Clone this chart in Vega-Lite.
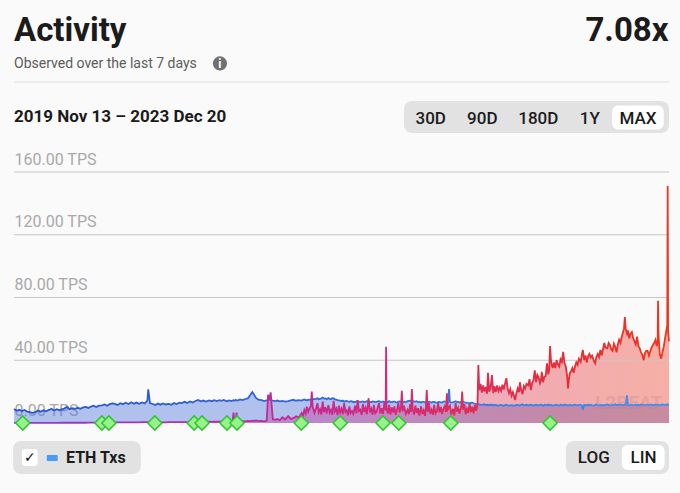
{
  "$schema": "https://vega.github.io/schema/vega-lite/v6.json",
  "width": 655,
  "height": 251,
  "autosize": {"type": "none"},
  "padding": {"left": 14, "top": 172, "right": 11, "bottom": 70},
  "background": "#fafafa",
  "config": {"view": {"stroke": null}, "font": "Roboto"},
  "datasets": {
    "series": [
      {"d":"2019-11-13","eth":8.9,"l2":0.1},{"d":"2019-11-19","eth":7.8,"l2":0.1},{"d":"2019-11-25","eth":8.4,"l2":0.1},
      {"d":"2019-12-01","eth":7.6,"l2":0.1},{"d":"2019-12-07","eth":8.3,"l2":0.1},{"d":"2019-12-13","eth":7.3,"l2":0.1},{"d":"2019-12-19","eth":7.0,"l2":0.1},{"d":"2019-12-25","eth":6.5,"l2":0.1},
      {"d":"2020-01-01","eth":6.9,"l2":0.1},{"d":"2020-01-07","eth":7.9,"l2":0.1},{"d":"2020-01-13","eth":7.2,"l2":0.1},{"d":"2020-01-19","eth":8.1,"l2":0.1},{"d":"2020-01-25","eth":7.5,"l2":0.1},
      {"d":"2020-02-01","eth":8.4,"l2":0.1},{"d":"2020-02-07","eth":9.0,"l2":0.1},{"d":"2020-02-13","eth":8.0,"l2":0.1},{"d":"2020-02-19","eth":8.8,"l2":0.1},{"d":"2020-02-25","eth":8.1,"l2":0.1},
      {"d":"2020-03-01","eth":8.7,"l2":0.15},{"d":"2020-03-07","eth":9.2,"l2":0.15},{"d":"2020-03-13","eth":10.3,"l2":0.15},{"d":"2020-03-19","eth":8.8,"l2":0.15},{"d":"2020-03-25","eth":9.4,"l2":0.15},
      {"d":"2020-04-01","eth":9.0,"l2":0.15},{"d":"2020-04-07","eth":9.7,"l2":0.15},{"d":"2020-04-13","eth":9.1,"l2":0.15},{"d":"2020-04-19","eth":9.9,"l2":0.15},{"d":"2020-04-25","eth":10.2,"l2":0.15},
      {"d":"2020-05-01","eth":9.6,"l2":0.2},{"d":"2020-05-07","eth":10.5,"l2":0.2},{"d":"2020-05-13","eth":11.0,"l2":0.2},{"d":"2020-05-19","eth":10.2,"l2":0.2},{"d":"2020-05-25","eth":11.1,"l2":0.2},
      {"d":"2020-06-01","eth":11.3,"l2":0.3},{"d":"2020-06-07","eth":11.8,"l2":0.3},{"d":"2020-06-13","eth":11.0,"l2":0.3},{"d":"2020-06-19","eth":12.1,"l2":0.3},{"d":"2020-06-25","eth":12.5,"l2":0.3},
      {"d":"2020-07-01","eth":12.2,"l2":0.4},{"d":"2020-07-07","eth":11.5,"l2":0.4},{"d":"2020-07-13","eth":12.6,"l2":0.4},{"d":"2020-07-19","eth":12.0,"l2":0.4},{"d":"2020-07-25","eth":12.9,"l2":0.4},
      {"d":"2020-08-01","eth":12.1,"l2":0.35},{"d":"2020-08-07","eth":13.2,"l2":0.35},{"d":"2020-08-13","eth":12.3,"l2":0.35},{"d":"2020-08-19","eth":13.0,"l2":0.35},{"d":"2020-08-25","eth":12.2,"l2":0.35},
      {"d":"2020-09-01","eth":13.1,"l2":0.5},{"d":"2020-09-07","eth":12.4,"l2":0.5},{"d":"2020-09-13","eth":14.2,"l2":0.5},{"d":"2020-09-15","eth":21.5,"l2":0.5},{"d":"2020-09-19","eth":12.7,"l2":0.5},{"d":"2020-09-25","eth":12.1,"l2":0.5},
      {"d":"2020-10-01","eth":11.5,"l2":0.45},{"d":"2020-10-07","eth":12.4,"l2":0.45},{"d":"2020-10-13","eth":11.7,"l2":0.45},{"d":"2020-10-19","eth":12.5,"l2":0.45},{"d":"2020-10-25","eth":11.8,"l2":0.45},
      {"d":"2020-11-01","eth":12.2,"l2":0.5},{"d":"2020-11-07","eth":11.6,"l2":0.5},{"d":"2020-11-13","eth":12.7,"l2":0.5},{"d":"2020-11-19","eth":12.1,"l2":0.5},{"d":"2020-11-25","eth":13.0,"l2":0.5},
      {"d":"2020-12-01","eth":12.7,"l2":0.6},{"d":"2020-12-07","eth":13.5,"l2":0.6},{"d":"2020-12-13","eth":12.8,"l2":0.6},{"d":"2020-12-19","eth":13.7,"l2":0.6},{"d":"2020-12-25","eth":13.1,"l2":0.6},
      {"d":"2021-01-01","eth":14.0,"l2":0.6},{"d":"2021-01-07","eth":14.7,"l2":0.7},{"d":"2021-01-13","eth":13.8,"l2":0.6},{"d":"2021-01-19","eth":14.3,"l2":0.8},{"d":"2021-01-25","eth":13.7,"l2":0.7},
      {"d":"2021-02-01","eth":14.4,"l2":0.8},{"d":"2021-02-07","eth":13.9,"l2":0.7},{"d":"2021-02-13","eth":14.6,"l2":0.9},{"d":"2021-02-19","eth":14.0,"l2":0.8},{"d":"2021-02-25","eth":14.5,"l2":0.9},
      {"d":"2021-03-01","eth":14.1,"l2":0.8},{"d":"2021-03-07","eth":14.7,"l2":1.0},{"d":"2021-03-13","eth":13.9,"l2":0.9},{"d":"2021-03-19","eth":14.4,"l2":1.1},{"d":"2021-03-25","eth":14.0,"l2":1.0},{"d":"2021-03-27","eth":14.3,"l2":1.0},{"d":"2021-03-29","eth":14.5,"l2":6.6},{"d":"2021-03-31","eth":14.2,"l2":1.0},
      {"d":"2021-04-03","eth":14.8,"l2":1.1},{"d":"2021-04-05","eth":14.4,"l2":6.6},{"d":"2021-04-07","eth":14.3,"l2":1.0},{"d":"2021-04-13","eth":15.0,"l2":1.3},{"d":"2021-04-19","eth":14.6,"l2":1.2},{"d":"2021-04-25","eth":15.3,"l2":1.1},
      {"d":"2021-05-01","eth":15.7,"l2":1.4},{"d":"2021-05-07","eth":18.1,"l2":1.2},{"d":"2021-05-11","eth":19.7,"l2":1.5},{"d":"2021-05-15","eth":18.0,"l2":1.3},{"d":"2021-05-19","eth":16.1,"l2":1.6},{"d":"2021-05-25","eth":14.9,"l2":1.2},
      {"d":"2021-06-01","eth":14.6,"l2":1.4},{"d":"2021-06-07","eth":14.0,"l2":1.1},{"d":"2021-06-13","eth":14.5,"l2":1.6},{"d":"2021-06-16","eth":14.7,"l2":18.0},{"d":"2021-06-19","eth":14.9,"l2":15.0},{"d":"2021-06-22","eth":16.5,"l2":19.5},{"d":"2021-06-24","eth":14.4,"l2":12.0},{"d":"2021-06-27","eth":14.2,"l2":2.4},
      {"d":"2021-07-03","eth":13.9,"l2":2.0},{"d":"2021-07-07","eth":14.3,"l2":2.6},{"d":"2021-07-13","eth":13.8,"l2":1.8},{"d":"2021-07-19","eth":14.1,"l2":3.6},{"d":"2021-07-25","eth":13.6,"l2":2.2},
      {"d":"2021-08-01","eth":14.0,"l2":4.4},{"d":"2021-08-07","eth":14.4,"l2":2.6},{"d":"2021-08-13","eth":14.8,"l2":3.1},{"d":"2021-08-19","eth":14.2,"l2":4.3},{"d":"2021-08-25","eth":14.6,"l2":3.4},
      {"d":"2021-09-01","eth":14.3,"l2":6.4},{"d":"2021-09-04","eth":14.7,"l2":4.8},{"d":"2021-09-07","eth":15.0,"l2":8.2},{"d":"2021-09-10","eth":14.6,"l2":6.0},{"d":"2021-09-13","eth":14.5,"l2":10.4},{"d":"2021-09-16","eth":14.9,"l2":7.2},{"d":"2021-09-19","eth":14.8,"l2":9.1},{"d":"2021-09-22","eth":15.0,"l2":11.0},{"d":"2021-09-24","eth":15.1,"l2":20.0},{"d":"2021-09-26","eth":15.3,"l2":10.5},{"d":"2021-09-30","eth":15.2,"l2":6.5},
      {"d":"2021-10-04","eth":15.4,"l2":9.6},{"d":"2021-10-07","eth":15.8,"l2":12.6},{"d":"2021-10-10","eth":15.1,"l2":6.8},{"d":"2021-10-13","eth":15.3,"l2":8.7},{"d":"2021-10-16","eth":15.7,"l2":5.4},{"d":"2021-10-19","eth":16.2,"l2":13.6},{"d":"2021-10-22","eth":15.5,"l2":7.0},{"d":"2021-10-25","eth":15.6,"l2":10.1},{"d":"2021-10-28","eth":15.2,"l2":6.2},
      {"d":"2021-11-01","eth":15.9,"l2":11.4},{"d":"2021-11-04","eth":15.4,"l2":6.6},{"d":"2021-11-07","eth":15.2,"l2":8.4},{"d":"2021-11-10","eth":15.8,"l2":5.2},{"d":"2021-11-13","eth":15.7,"l2":14.1},{"d":"2021-11-16","eth":15.0,"l2":7.4},{"d":"2021-11-19","eth":14.9,"l2":9.2},{"d":"2021-11-22","eth":14.6,"l2":5.0},{"d":"2021-11-25","eth":14.4,"l2":11.1},{"d":"2021-11-28","eth":14.2,"l2":6.8},
      {"d":"2021-12-01","eth":14.0,"l2":9.0},{"d":"2021-12-04","eth":14.3,"l2":5.6},{"d":"2021-12-07","eth":13.6,"l2":12.6},{"d":"2021-12-10","eth":13.9,"l2":7.0},{"d":"2021-12-13","eth":14.1,"l2":8.1},{"d":"2021-12-16","eth":13.7,"l2":4.8},{"d":"2021-12-19","eth":13.5,"l2":10.6},{"d":"2021-12-22","eth":13.9,"l2":6.4},{"d":"2021-12-25","eth":13.8,"l2":7.6},{"d":"2021-12-28","eth":13.4,"l2":5.8},
      {"d":"2022-01-01","eth":13.4,"l2":11.0},{"d":"2022-01-04","eth":13.8,"l2":6.2},{"d":"2022-01-07","eth":13.9,"l2":14.6},{"d":"2022-01-10","eth":13.5,"l2":7.6},{"d":"2022-01-13","eth":13.3,"l2":8.4},{"d":"2022-01-16","eth":13.6,"l2":5.2},{"d":"2022-01-19","eth":13.7,"l2":12.1},{"d":"2022-01-22","eth":13.2,"l2":7.0},{"d":"2022-01-25","eth":13.5,"l2":9.6},{"d":"2022-01-28","eth":13.9,"l2":5.6},
      {"d":"2022-02-01","eth":13.8,"l2":15.8},{"d":"2022-02-04","eth":13.4,"l2":6.8},{"d":"2022-02-07","eth":13.2,"l2":9.0},{"d":"2022-02-10","eth":13.7,"l2":5.4},{"d":"2022-02-13","eth":13.6,"l2":11.6},{"d":"2022-02-16","eth":13.3,"l2":6.2},{"d":"2022-02-19","eth":13.4,"l2":7.0},{"d":"2022-02-22","eth":13.8,"l2":10.2},{"d":"2022-02-25","eth":13.9,"l2":12.6},{"d":"2022-02-28","eth":13.5,"l2":6.0},
      {"d":"2022-03-03","eth":13.3,"l2":9.4},{"d":"2022-03-06","eth":13.7,"l2":5.8},{"d":"2022-03-09","eth":13.4,"l2":13.1},{"d":"2022-03-12","eth":13.4,"l2":8.0},{"d":"2022-03-13","eth":13.6,"l2":48.6},{"d":"2022-03-14","eth":13.5,"l2":9.8},{"d":"2022-03-17","eth":13.2,"l2":6.0},{"d":"2022-03-20","eth":13.9,"l2":11.6},{"d":"2022-03-23","eth":13.4,"l2":5.4},{"d":"2022-03-26","eth":13.2,"l2":10.0},{"d":"2022-03-29","eth":13.6,"l2":6.6},
      {"d":"2022-04-01","eth":13.6,"l2":10.6},{"d":"2022-04-04","eth":13.3,"l2":5.2},{"d":"2022-04-07","eth":13.1,"l2":8.4},{"d":"2022-04-10","eth":13.7,"l2":12.8},{"d":"2022-04-13","eth":13.8,"l2":6.6},{"d":"2022-04-16","eth":13.4,"l2":10.0},{"d":"2022-04-18","eth":13.5,"l2":20.6},{"d":"2022-04-20","eth":13.3,"l2":7.4},{"d":"2022-04-23","eth":13.6,"l2":11.0},{"d":"2022-04-27","eth":13.2,"l2":5.8},
      {"d":"2022-05-01","eth":13.9,"l2":8.4},{"d":"2022-05-04","eth":14.1,"l2":5.6},{"d":"2022-05-07","eth":14.2,"l2":12.1},{"d":"2022-05-09","eth":14.0,"l2":7.0},{"d":"2022-05-11","eth":14.6,"l2":21.6},{"d":"2022-05-13","eth":14.0,"l2":9.0},{"d":"2022-05-16","eth":13.6,"l2":5.4},{"d":"2022-05-19","eth":13.7,"l2":11.1},{"d":"2022-05-22","eth":13.9,"l2":6.4},{"d":"2022-05-25","eth":13.3,"l2":9.4},{"d":"2022-05-28","eth":13.5,"l2":4.8},
      {"d":"2022-06-01","eth":13.1,"l2":10.6},{"d":"2022-06-04","eth":13.4,"l2":5.6},{"d":"2022-06-07","eth":13.5,"l2":8.0},{"d":"2022-06-10","eth":13.2,"l2":4.6},{"d":"2022-06-12","eth":13.0,"l2":9.6},{"d":"2022-06-14","eth":13.4,"l2":21.0},{"d":"2022-06-16","eth":13.2,"l2":7.0},{"d":"2022-06-19","eth":13.6,"l2":12.6},{"d":"2022-06-22","eth":13.3,"l2":6.0},{"d":"2022-06-25","eth":13.0,"l2":8.4},{"d":"2022-06-28","eth":13.4,"l2":5.2},
      {"d":"2022-07-01","eth":13.4,"l2":11.6},{"d":"2022-07-04","eth":13.1,"l2":6.2},{"d":"2022-07-07","eth":12.9,"l2":7.4},{"d":"2022-07-10","eth":13.3,"l2":12.6},{"d":"2022-07-13","eth":13.5,"l2":6.8},{"d":"2022-07-16","eth":13.2,"l2":10.2},{"d":"2022-07-19","eth":13.1,"l2":5.8},{"d":"2022-07-22","eth":13.6,"l2":9.0},{"d":"2022-07-25","eth":13.7,"l2":10.6},{"d":"2022-07-28","eth":13.3,"l2":7.0},{"d":"2022-07-30","eth":13.5,"l2":19.0},
      {"d":"2022-08-01","eth":13.0,"l2":8.6},{"d":"2022-08-04","eth":21.6,"l2":10.2},{"d":"2022-08-06","eth":13.4,"l2":11.0},{"d":"2022-08-09","eth":13.1,"l2":5.4},{"d":"2022-08-13","eth":13.2,"l2":9.0},{"d":"2022-08-16","eth":13.5,"l2":4.8},{"d":"2022-08-19","eth":13.8,"l2":12.6},{"d":"2022-08-22","eth":13.3,"l2":7.2},{"d":"2022-08-25","eth":13.4,"l2":9.6},{"d":"2022-08-28","eth":13.1,"l2":6.0},
      {"d":"2022-09-01","eth":13.5,"l2":11.0},{"d":"2022-09-03","eth":13.1,"l2":20.0},{"d":"2022-09-05","eth":13.6,"l2":8.4},{"d":"2022-09-08","eth":13.2,"l2":12.0},{"d":"2022-09-11","eth":12.8,"l2":5.6},{"d":"2022-09-14","eth":13.0,"l2":9.0},{"d":"2022-09-17","eth":12.7,"l2":6.4},{"d":"2022-09-20","eth":12.6,"l2":12.6},{"d":"2022-09-23","eth":12.9,"l2":7.0},{"d":"2022-09-26","eth":12.9,"l2":10.4},{"d":"2022-09-29","eth":12.5,"l2":6.2},
      {"d":"2022-10-02","eth":12.4,"l2":11.6},{"d":"2022-10-05","eth":12.2,"l2":7.8},{"d":"2022-10-08","eth":12.1,"l2":12.0},{"d":"2022-10-10","eth":12.0,"l2":37.0},{"d":"2022-10-12","eth":11.8,"l2":21.0},{"d":"2022-10-15","eth":11.6,"l2":25.0},{"d":"2022-10-18","eth":11.5,"l2":19.4},{"d":"2022-10-21","eth":11.7,"l2":24.0},{"d":"2022-10-24","eth":11.9,"l2":20.0},{"d":"2022-10-27","eth":11.4,"l2":23.0},{"d":"2022-10-30","eth":11.6,"l2":18.6},
      {"d":"2022-11-01","eth":11.3,"l2":32.0},{"d":"2022-11-04","eth":11.6,"l2":20.0},{"d":"2022-11-07","eth":11.4,"l2":22.6},{"d":"2022-11-10","eth":11.8,"l2":30.6},{"d":"2022-11-13","eth":11.2,"l2":19.0},{"d":"2022-11-16","eth":11.5,"l2":23.4},{"d":"2022-11-19","eth":11.6,"l2":19.8},{"d":"2022-11-22","eth":11.3,"l2":24.0},{"d":"2022-11-25","eth":11.1,"l2":20.4},{"d":"2022-11-28","eth":11.4,"l2":22.6},
      {"d":"2022-12-01","eth":11.5,"l2":20.6},{"d":"2022-12-04","eth":11.2,"l2":24.4},{"d":"2022-12-07","eth":11.0,"l2":21.4},{"d":"2022-12-10","eth":11.4,"l2":25.0},{"d":"2022-12-13","eth":11.7,"l2":28.6},{"d":"2022-12-16","eth":11.3,"l2":22.0},{"d":"2022-12-19","eth":11.0,"l2":19.0},{"d":"2022-12-22","eth":11.3,"l2":21.6},{"d":"2022-12-25","eth":11.4,"l2":17.4},{"d":"2022-12-28","eth":11.1,"l2":19.6},
      {"d":"2023-01-02","eth":11.2,"l2":14.6},{"d":"2023-01-05","eth":11.5,"l2":19.0},{"d":"2023-01-08","eth":11.6,"l2":22.0},{"d":"2023-01-11","eth":11.2,"l2":19.6},{"d":"2023-01-13","eth":11.3,"l2":26.0},{"d":"2023-01-16","eth":11.7,"l2":21.0},{"d":"2023-01-19","eth":11.8,"l2":18.4},{"d":"2023-01-22","eth":11.3,"l2":23.6},{"d":"2023-01-25","eth":11.4,"l2":22.0},{"d":"2023-01-28","eth":11.6,"l2":25.0},
      {"d":"2023-02-01","eth":11.1,"l2":24.0},{"d":"2023-02-04","eth":11.5,"l2":28.0},{"d":"2023-02-07","eth":11.7,"l2":21.0},{"d":"2023-02-10","eth":11.2,"l2":25.6},{"d":"2023-02-13","eth":11.4,"l2":27.4},{"d":"2023-02-16","eth":11.2,"l2":33.6},{"d":"2023-02-19","eth":11.6,"l2":26.0},{"d":"2023-02-22","eth":11.3,"l2":30.6},{"d":"2023-02-25","eth":11.3,"l2":29.0},{"d":"2023-02-28","eth":11.5,"l2":25.4},
      {"d":"2023-03-02","eth":11.7,"l2":27.0},{"d":"2023-03-04","eth":11.4,"l2":32.6},{"d":"2023-03-07","eth":11.0,"l2":26.0},{"d":"2023-03-10","eth":11.6,"l2":29.4},{"d":"2023-03-13","eth":11.5,"l2":30.0},{"d":"2023-03-16","eth":11.2,"l2":38.0},{"d":"2023-03-19","eth":11.8,"l2":31.0},{"d":"2023-03-21","eth":11.3,"l2":34.0},{"d":"2023-03-23","eth":11.4,"l2":49.0},{"d":"2023-03-25","eth":11.6,"l2":40.0},{"d":"2023-03-27","eth":11.2,"l2":37.0},{"d":"2023-03-29","eth":11.0,"l2":35.0},
      {"d":"2023-04-01","eth":11.3,"l2":38.6},{"d":"2023-04-04","eth":11.6,"l2":35.0},{"d":"2023-04-07","eth":11.7,"l2":40.0},{"d":"2023-04-10","eth":11.3,"l2":37.4},{"d":"2023-04-13","eth":11.1,"l2":36.0},{"d":"2023-04-16","eth":11.6,"l2":40.6},{"d":"2023-04-19","eth":11.5,"l2":39.0},{"d":"2023-04-22","eth":11.2,"l2":45.4},{"d":"2023-04-25","eth":11.8,"l2":38.0},{"d":"2023-04-28","eth":11.4,"l2":36.0},
      {"d":"2023-05-01","eth":11.4,"l2":30.0},{"d":"2023-05-03","eth":11.0,"l2":22.0},{"d":"2023-05-05","eth":11.3,"l2":27.6},{"d":"2023-05-07","eth":11.6,"l2":31.6},{"d":"2023-05-10","eth":11.2,"l2":33.0},{"d":"2023-05-13","eth":11.3,"l2":35.0},{"d":"2023-05-16","eth":11.6,"l2":32.0},{"d":"2023-05-19","eth":11.7,"l2":36.0},{"d":"2023-05-22","eth":11.4,"l2":38.6},{"d":"2023-05-25","eth":11.2,"l2":37.0},{"d":"2023-05-28","eth":11.5,"l2":41.0},
      {"d":"2023-06-01","eth":11.5,"l2":39.0},{"d":"2023-06-04","eth":11.0,"l2":44.0},{"d":"2023-06-06","eth":8.4,"l2":46.6},{"d":"2023-06-09","eth":11.6,"l2":40.0},{"d":"2023-06-12","eth":11.4,"l2":43.0},{"d":"2023-06-15","eth":11.2,"l2":38.6},{"d":"2023-06-18","eth":11.8,"l2":42.6},{"d":"2023-06-21","eth":11.3,"l2":44.0},{"d":"2023-06-24","eth":11.6,"l2":41.6},{"d":"2023-06-27","eth":11.2,"l2":43.0},
      {"d":"2023-07-01","eth":11.1,"l2":39.6},{"d":"2023-07-04","eth":11.5,"l2":38.0},{"d":"2023-07-07","eth":11.8,"l2":42.0},{"d":"2023-07-10","eth":11.4,"l2":44.0},{"d":"2023-07-13","eth":11.3,"l2":42.0},{"d":"2023-07-16","eth":11.6,"l2":46.6},{"d":"2023-07-19","eth":11.0,"l2":43.0},{"d":"2023-07-22","eth":11.5,"l2":47.0},{"d":"2023-07-25","eth":11.3,"l2":51.0},{"d":"2023-07-28","eth":11.6,"l2":48.0},
      {"d":"2023-08-01","eth":11.8,"l2":47.6},{"d":"2023-08-04","eth":11.4,"l2":51.0},{"d":"2023-08-07","eth":11.2,"l2":49.6},{"d":"2023-08-10","eth":11.7,"l2":47.0},{"d":"2023-08-13","eth":11.6,"l2":46.0},{"d":"2023-08-16","eth":11.3,"l2":50.6},{"d":"2023-08-19","eth":12.0,"l2":48.6},{"d":"2023-08-22","eth":11.4,"l2":45.0},{"d":"2023-08-25","eth":11.7,"l2":50.0},{"d":"2023-08-28","eth":11.3,"l2":53.0},
      {"d":"2023-08-31","eth":11.9,"l2":51.0},{"d":"2023-09-03","eth":11.6,"l2":55.0},{"d":"2023-09-06","eth":11.3,"l2":58.0},{"d":"2023-09-08","eth":11.5,"l2":60.0},{"d":"2023-09-10","eth":11.8,"l2":67.6},{"d":"2023-09-12","eth":11.5,"l2":60.0},{"d":"2023-09-15","eth":17.6,"l2":57.0},{"d":"2023-09-17","eth":11.7,"l2":59.0},{"d":"2023-09-20","eth":11.2,"l2":54.0},{"d":"2023-09-23","eth":11.5,"l2":57.0},{"d":"2023-09-26","eth":11.6,"l2":58.0},{"d":"2023-09-29","eth":11.3,"l2":54.0},
      {"d":"2023-10-02","eth":11.4,"l2":52.0},{"d":"2023-10-05","eth":11.8,"l2":50.0},{"d":"2023-10-08","eth":11.2,"l2":55.0},{"d":"2023-10-11","eth":11.6,"l2":49.0},{"d":"2023-10-14","eth":11.3,"l2":47.6},{"d":"2023-10-17","eth":11.7,"l2":45.0},{"d":"2023-10-20","eth":11.9,"l2":43.6},{"d":"2023-10-23","eth":11.5,"l2":40.0},{"d":"2023-10-26","eth":11.2,"l2":44.6},{"d":"2023-10-29","eth":11.6,"l2":46.0},
      {"d":"2023-11-01","eth":11.7,"l2":46.0},{"d":"2023-11-04","eth":11.4,"l2":43.0},{"d":"2023-11-07","eth":11.8,"l2":45.6},{"d":"2023-11-10","eth":11.3,"l2":48.0},{"d":"2023-11-13","eth":11.6,"l2":49.6},{"d":"2023-11-16","eth":11.2,"l2":51.0},{"d":"2023-11-19","eth":11.8,"l2":53.0},{"d":"2023-11-22","eth":11.5,"l2":49.0},{"d":"2023-11-24","eth":11.3,"l2":52.0},{"d":"2023-11-25","eth":11.4,"l2":78.0},{"d":"2023-11-26","eth":11.7,"l2":56.0},{"d":"2023-11-29","eth":11.3,"l2":44.0},
      {"d":"2023-12-02","eth":11.6,"l2":41.0},{"d":"2023-12-05","eth":11.9,"l2":45.0},{"d":"2023-12-08","eth":11.4,"l2":48.6},{"d":"2023-12-11","eth":11.7,"l2":54.0},{"d":"2023-12-14","eth":11.5,"l2":59.0},{"d":"2023-12-16","eth":11.8,"l2":62.0},{"d":"2023-12-17","eth":12.0,"l2":151.0},{"d":"2023-12-18","eth":11.6,"l2":58.0},{"d":"2023-12-20","eth":11.7,"l2":52.0}
    ],
    "milestones": [
      {"d":"2019-12-03"},{"d":"2020-06-01"},{"d":"2020-06-17"},{"d":"2020-09-30"},{"d":"2020-12-29"},{"d":"2021-01-16"},{"d":"2021-03-14"},{"d":"2021-04-06"},{"d":"2021-08-31"},{"d":"2021-11-28"},{"d":"2022-03-06"},{"d":"2022-04-11"},{"d":"2022-08-08"},{"d":"2023-03-23"}
    ],
    "grid": [{"tps":40},{"tps":80},{"tps":120},{"tps":160}]
  },
  "layer": [
    {
      "data": {"name": "series"},
      "mark": {"type": "area", "color": "#4a72dc", "opacity": 0.42},
      "encoding": {
        "x": {"field": "d", "type": "temporal", "title": null, "axis": null, "scale": {"type": "utc", "nice": false, "domain": [{"year":2019,"month":11,"date":13,"utc":true},{"year":2023,"month":12,"date":20,"utc":true}]}},
        "y": {"field": "eth", "type": "quantitative", "title": null, "scale": {"domain": [0, 160], "nice": false},
              "axis": {"values": [0, 40, 80, 120, 160], "labelExpr": "format(datum.value, '.2f') + ' TPS'", "labelAlign": "left", "labelBaseline": "alphabetic", "labelOffset": -8, "labelPadding": 0, "ticks": false, "tickSize": 0, "domain": false, "grid": false, "title": null, "labelColor": "#a9a9a9", "labelFontSize": 16, "labelFont": "Roboto", "labelFlush": false, "labelOverlap": false, "zindex": 0}}
      }
    },
    {
      "data": {"name": "series"},
      "mark": {"type": "area", "opacity": 0.38, "color": {"gradient":"linear","x1":0,"x2":1,"y1":0,"y2":0,"stops":[{"offset":0,"color":"#8a3ccf"},{"offset":0.3,"color":"#b42ea8"},{"offset":0.45,"color":"#c8288f"},{"offset":0.58,"color":"#d42a78"},{"offset":0.72,"color":"#de2d52"},{"offset":0.85,"color":"#e62e33"},{"offset":1,"color":"#f0361c"}]}},
      "encoding": {
        "x": {"field": "d", "type": "temporal", "title": null},
        "y": {"field": "l2", "type": "quantitative", "title": null}
      }
    },
    {
      "data": {"name": "grid"},
      "mark": {"type": "rule", "color": "#c6c6c6", "strokeWidth": 1},
      "encoding": {"y": {"field": "tps", "type": "quantitative", "title": null}}
    },
    {
      "data": {"name": "series"},
      "mark": {"type": "line", "strokeWidth": 1.8, "color": {"gradient":"linear","x1":0,"x2":1,"y1":0,"y2":0,"stops":[{"offset":0,"color":"#2a55cf"},{"offset":0.5,"color":"#3468dc"},{"offset":0.8,"color":"#3a83ec"},{"offset":1,"color":"#3f90f5"}]}},
      "encoding": {
        "x": {"field": "d", "type": "temporal", "title": null},
        "y": {"field": "eth", "type": "quantitative", "title": null}
      }
    },
    {
      "data": {"name": "series"},
      "mark": {"type": "line", "strokeWidth": 1.8, "color": {"gradient":"linear","x1":0,"x2":1,"y1":0,"y2":0,"stops":[{"offset":0,"color":"#8a3ccf"},{"offset":0.3,"color":"#b42ea8"},{"offset":0.45,"color":"#c8288f"},{"offset":0.58,"color":"#d42a78"},{"offset":0.72,"color":"#de2d52"},{"offset":0.85,"color":"#e62e33"},{"offset":1,"color":"#f0361c"}]}},
      "encoding": {
        "x": {"field": "d", "type": "temporal", "title": null},
        "y": {"field": "l2", "type": "quantitative", "title": null}
      }
    },
    {
      "data": {"name": "milestones"},
      "mark": {"type": "point", "shape": "diamond", "size": 200, "filled": true, "fill": "#98f28c", "stroke": "#2fc62f", "strokeWidth": 1.5, "opacity": 1},
      "encoding": {
        "x": {"field": "d", "type": "temporal", "title": null},
        "y": {"datum": 0, "title": null}
      }
    },
    {
      "data": {"values": [{}]},
      "mark": {"type": "text", "text": "L2BEAT", "font": "Roboto", "fontSize": 19, "fontWeight": "bold", "color": "#c07a8a", "opacity": 0.25, "align": "center", "baseline": "middle"},
      "encoding": {"x": {"datum": {"year":2023,"month":9,"date":19,"utc":true}, "title": null}, "y": {"datum": 12.7, "title": null}}
    },
    {
      "data": {"values": [{}]},
      "mark": {"type": "text", "text": "Activity", "font": "Roboto", "fontSize": 33, "fontWeight": "bold", "color": "#1b1b1b", "align": "left", "baseline": "alphabetic"},
      "encoding": {"x": {"datum": {"year":2019,"month":11,"date":13,"utc":true}, "title": null}, "y": {"datum": 243.5, "title": null}}
    },
    {
      "data": {"values": [{}]},
      "mark": {"type": "text", "text": "7.08x", "font": "Roboto", "fontSize": 33, "fontWeight": "bold", "color": "#1b1b1b", "align": "right", "baseline": "alphabetic"},
      "encoding": {"x": {"datum": {"year":2023,"month":12,"date":19,"utc":true}, "title": null}, "y": {"datum": 243.5, "title": null}}
    },
    {
      "data": {"values": [{}]},
      "mark": {"type": "text", "text": "Observed over the last 7 days", "font": "Roboto", "fontSize": 14, "color": "#5c5c5c", "align": "left", "baseline": "alphabetic"},
      "encoding": {"x": {"datum": {"year":2019,"month":11,"date":13,"utc":true}, "title": null}, "y": {"datum": 226.3, "title": null}}
    },
    {
      "data": {"values": [{}]},
      "mark": {"type": "point", "shape": "circle", "size": 200, "filled": true, "color": "#707070", "opacity": 1},
      "encoding": {"x": {"datum": {"year":2021,"month":2,"date":26,"utc":true}, "title": null}, "y": {"datum": 229.2, "title": null}}
    },
    {
      "data": {"values": [{}]},
      "mark": {"type": "text", "text": "i", "font": "Roboto", "fontSize": 12, "fontWeight": "bold", "color": "#ffffff", "align": "center", "baseline": "middle", "dy": 0.5},
      "encoding": {"x": {"datum": {"year":2021,"month":2,"date":26,"utc":true}, "title": null}, "y": {"datum": 229.2, "title": null}}
    },
    {
      "data": {"values": [{}]},
      "mark": {"type": "rule", "color": "#dddddd", "strokeWidth": 1},
      "encoding": {"x": {"datum": {"year":2019,"month":11,"date":13,"utc":true}, "title": null}, "x2": {"datum": {"year":2023,"month":12,"date":20,"utc":true}}, "y": {"datum": 217.4, "title": null}}
    },
    {
      "data": {"values": [{}]},
      "mark": {"type": "text", "text": "2019 Nov 13 – 2023 Dec 20", "font": "Roboto", "fontSize": 17, "fontWeight": "bold", "color": "#1b1b1b", "align": "left", "baseline": "alphabetic"},
      "encoding": {"x": {"datum": {"year":2019,"month":11,"date":13,"utc":true}, "title": null}, "y": {"datum": 191.9, "title": null}}
    },
    {
      "data": {"values": [{}]},
      "mark": {"type": "rect", "color": "#e2e2e2", "cornerRadius": 8},
      "encoding": {"x": {"datum": {"year":2022,"month":4,"date":23,"utc":true}, "title": null}, "x2": {"datum": {"year":2023,"month":12,"date":20,"utc":true}}, "y": {"datum": 205.3, "title": null}, "y2": {"datum": 184.9}}
    },
    {
      "data": {"values": [{}]},
      "mark": {"type": "rect", "color": "#ffffff", "cornerRadius": 6},
      "encoding": {"x": {"datum": {"year":2023,"month":8,"date":12,"utc":true}, "title": null}, "x2": {"datum": {"year":2023,"month":12,"date":8,"utc":true}}, "y": {"datum": 202.4, "title": null}, "y2": {"datum": 187.1}}
    },
    {
      "data": {"values": [{}]},
      "mark": {"type": "text", "text": "30D", "font": "Roboto", "fontSize": 17, "fontWeight": 500, "color": "#1b1b1b", "align": "center", "baseline": "alphabetic"},
      "encoding": {"x": {"datum": {"year":2022,"month":6,"date":23,"utc":true}, "title": null}, "y": {"datum": 190.6, "title": null}}
    },
    {
      "data": {"values": [{}]},
      "mark": {"type": "text", "text": "90D", "font": "Roboto", "fontSize": 17, "fontWeight": 500, "color": "#1b1b1b", "align": "center", "baseline": "alphabetic"},
      "encoding": {"x": {"datum": {"year":2022,"month":10,"date":19,"utc":true}, "title": null}, "y": {"datum": 190.6, "title": null}}
    },
    {
      "data": {"values": [{}]},
      "mark": {"type": "text", "text": "180D", "font": "Roboto", "fontSize": 17, "fontWeight": 500, "color": "#1b1b1b", "align": "center", "baseline": "alphabetic"},
      "encoding": {"x": {"datum": {"year":2023,"month":2,"date":24,"utc":true}, "title": null}, "y": {"datum": 190.6, "title": null}}
    },
    {
      "data": {"values": [{}]},
      "mark": {"type": "text", "text": "1Y", "font": "Roboto", "fontSize": 17, "fontWeight": 500, "color": "#1b1b1b", "align": "center", "baseline": "alphabetic"},
      "encoding": {"x": {"datum": {"year":2023,"month":6,"date":22,"utc":true}, "title": null}, "y": {"datum": 190.6, "title": null}}
    },
    {
      "data": {"values": [{}]},
      "mark": {"type": "text", "text": "MAX", "font": "Roboto", "fontSize": 17, "fontWeight": 500, "color": "#1b1b1b", "align": "center", "baseline": "alphabetic"},
      "encoding": {"x": {"datum": {"year":2023,"month":10,"date":10,"utc":true}, "title": null}, "y": {"datum": 190.6, "title": null}}
    },
    {
      "data": {"values": [{}]},
      "mark": {"type": "rect", "color": "#e2e2e2", "cornerRadius": 8},
      "encoding": {"x": {"datum": {"year":2019,"month":11,"date":11,"utc":true}, "title": null}, "x2": {"datum": {"year":2020,"month":8,"date":29,"utc":true}}, "y": {"datum": -11.5, "title": null}, "y2": {"datum": -32.5}}
    },
    {
      "data": {"values": [{}]},
      "mark": {"type": "rect", "color": "#ffffff", "cornerRadius": 3},
      "encoding": {"x": {"datum": {"year":2019,"month":12,"date":1,"utc":true}, "title": null}, "x2": {"datum": {"year":2020,"month":1,"date":6,"utc":true}}, "y": {"datum": -16.6, "title": null}, "y2": {"datum": -27.4}}
    },
    {
      "data": {"values": [{}]},
      "mark": {"type": "text", "text": "✓", "font": "DejaVu Sans", "fontSize": 14, "fontWeight": "bold", "color": "#111111", "align": "center", "baseline": "middle"},
      "encoding": {"x": {"datum": {"year":2019,"month":12,"date":19,"utc":true}, "title": null}, "y": {"datum": -22.0, "title": null}}
    },
    {
      "data": {"values": [{}]},
      "mark": {"type": "rect", "color": "#4a9bf7", "cornerRadius": 1},
      "encoding": {"x": {"datum": {"year":2020,"month":1,"date":27,"utc":true}, "title": null}, "x2": {"datum": {"year":2020,"month":2,"date":21,"utc":true}}, "y": {"datum": -20.4, "title": null}, "y2": {"datum": -24.2}}
    },
    {
      "data": {"values": [{}]},
      "mark": {"type": "text", "text": "ETH Txs", "font": "Roboto", "fontSize": 16, "fontWeight": "bold", "color": "#1b1b1b", "align": "left", "baseline": "alphabetic"},
      "encoding": {"x": {"datum": {"year":2020,"month":3,"date":11,"utc":true}, "title": null}, "y": {"datum": -25.5, "title": null}}
    },
    {
      "data": {"values": [{}]},
      "mark": {"type": "rect", "color": "#e2e2e2", "cornerRadius": 8},
      "encoding": {"x": {"datum": {"year":2023,"month":4,"date":28,"utc":true}, "title": null}, "x2": {"datum": {"year":2023,"month":12,"date":20,"utc":true}}, "y": {"datum": -11.5, "title": null}, "y2": {"datum": -32.5}}
    },
    {
      "data": {"values": [{}]},
      "mark": {"type": "rect", "color": "#ffffff", "cornerRadius": 6},
      "encoding": {"x": {"datum": {"year":2023,"month":9,"date":3,"utc":true}, "title": null}, "x2": {"datum": {"year":2023,"month":12,"date":10,"utc":true}}, "y": {"datum": -14.0, "title": null}, "y2": {"datum": -30.0}}
    },
    {
      "data": {"values": [{}]},
      "mark": {"type": "text", "text": "LOG", "font": "Roboto", "fontSize": 17, "fontWeight": 500, "color": "#1b1b1b", "align": "center", "baseline": "alphabetic"},
      "encoding": {"x": {"datum": {"year":2023,"month":7,"date":1,"utc":true}, "title": null}, "y": {"datum": -25.5, "title": null}}
    },
    {
      "data": {"values": [{}]},
      "mark": {"type": "text", "text": "LIN", "font": "Roboto", "fontSize": 17, "fontWeight": 500, "color": "#1b1b1b", "align": "center", "baseline": "alphabetic"},
      "encoding": {"x": {"datum": {"year":2023,"month":10,"date":23,"utc":true}, "title": null}, "y": {"datum": -25.5, "title": null}}
    }
  ]
}
